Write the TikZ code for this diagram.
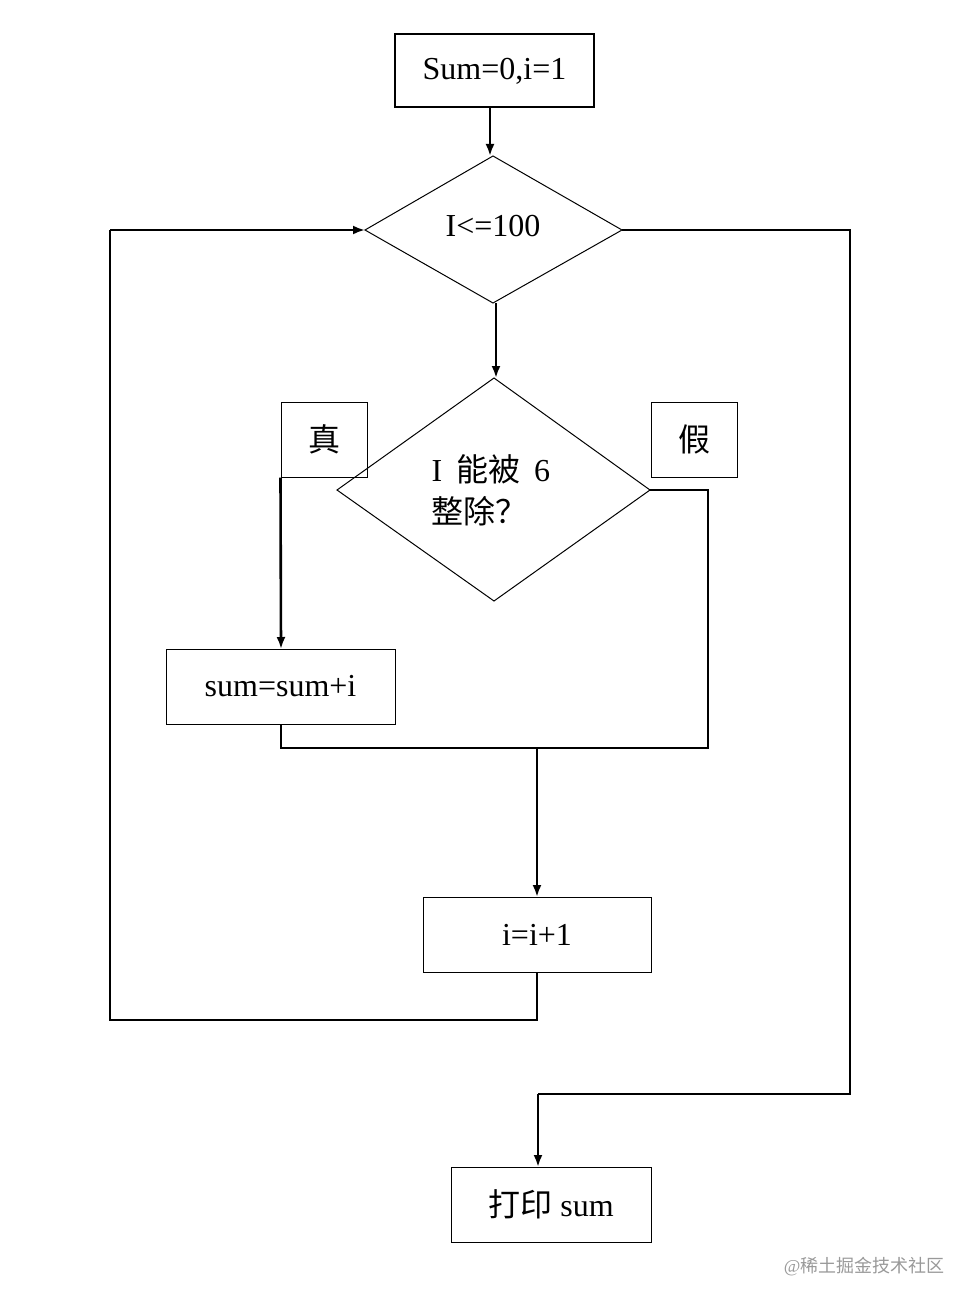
\documentclass[tikz,border=0pt]{standalone}
\usepackage{fontspec}
\setmainfont{Liberation Serif}
\newfontfamily\cjk{Noto Sans CJK SC}
\usetikzlibrary{arrows.meta}
\begin{document}
\begin{tikzpicture}[x=1pt,y=-1pt,
  box/.style={draw,line width=1pt,inner sep=0},
  con/.style={line width=2.6pt},
  arr/.style={con,-{Latex[length=12pt,width=9pt]}},
  txt/.style={font=\fontsize{32}{36}\selectfont}]
\useasboundingbox (0,0) rectangle (978,1308);
\node[box,line width=2pt,minimum width=199pt,minimum height=73pt,txt] (b1) at (494.5,71) {Sum=0,i=1};
\coordinate (d1t) at (493,156);\coordinate (d1b) at (493,303);
\coordinate (d1l) at (365,230);\coordinate (d1r) at (622,230);
\draw[line width=1pt] (d1t)--(d1r)--(d1b)--(d1l)--cycle;
\node[txt] (d1) at (493,226) {I<=100};
\coordinate (d2t) at (494,378);\coordinate (d2b) at (494,601);
\coordinate (d2l) at (337,490);\coordinate (d2r) at (650,490);
\draw[line width=1pt] (d2t)--(d2r)--(d2b)--(d2l)--cycle;
\node[txt,align=left,anchor=west] (d2) at (428,490) {I\hspace{14pt}{\cjk 能被}\hspace{14pt}6\\[6pt]{\cjk 整除？}};
\node[box,minimum width=86pt,minimum height=75pt,txt] (zhen) at (324,439.5) {\cjk 真};
\node[box,minimum width=86pt,minimum height=75pt,txt] (jia) at (694,439.5) {\cjk 假};
\node[box,minimum width=229pt,minimum height=75pt,txt] (s) at (280.5,686.5) {sum=sum+i};
\node[box,minimum width=228pt,minimum height=75pt,txt] (inc) at (537,935) {i=i+1};
\node[box,minimum width=200pt,minimum height=75pt,txt] (pr) at (551,1204.5) {{\cjk 打印} sum};
\node[font=\fontsize{18}{20}\selectfont,text=gray!80,anchor=east] (wm) at (948,1267) {@{\cjk 稀土掘金技术社区}};
\coordinate (j) at (537,748);
\draw[arr] (b1.south -| 490,0) -- (490,156);
\draw[arr] (496,303) -- (496,378);
\draw[arr] (zhen.south west) -- (281,649);
\draw[con] (d2r) -- (708,490) -- (708,748) -- (281,748) -- (s.south -| 281,0);
\draw[arr] (j) -- (inc.north);
\draw[con] (inc.south) -- (537,1020) -- (110,1020) -- (110,230);
\draw[arr] (110,230) -- (d1l);
\draw[con] (d1r) -- (850,230) -- (850,1094) -- (538,1094);
\draw[arr] (538,1094) -- (538,1167);
\end{tikzpicture}
\end{document}
